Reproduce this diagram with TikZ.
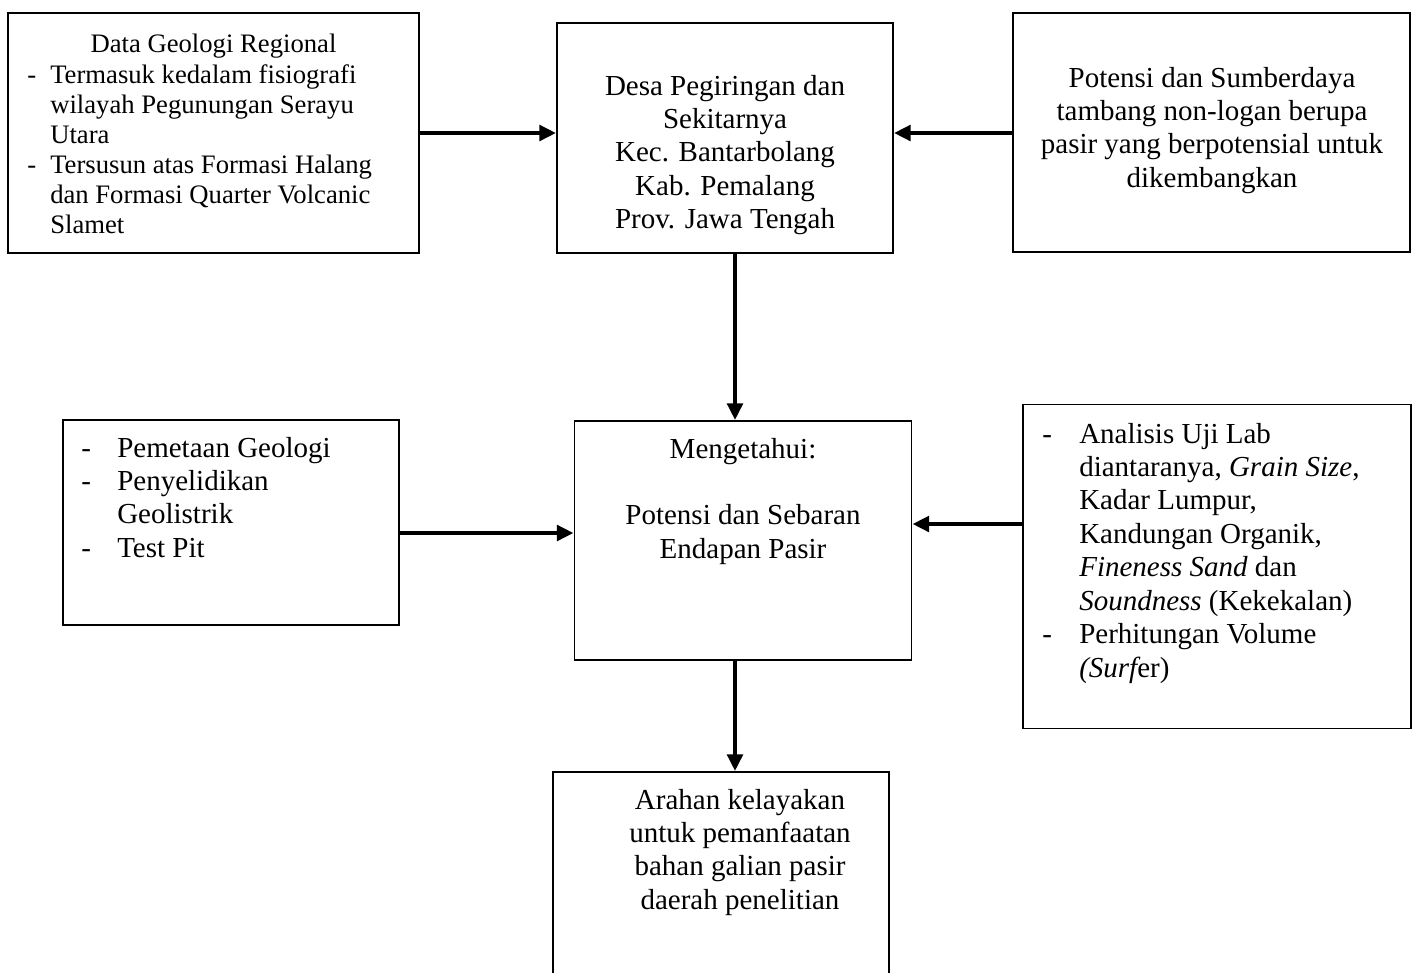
\documentclass[tikz,border=0pt]{standalone}
\usepackage{fontspec}
\setmainfont{Liberation Serif}
\usetikzlibrary{arrows.meta}
\begin{document}
\begin{tikzpicture}[x=0.75pt,y=-0.75pt,
  box/.style={draw, line width=1.4pt, inner sep=0pt, rectangle},
  arr/.style={line width=3.5pt, -{Triangle[length=12.5pt,width=11.5pt]}},
  txt/.style={inner sep=0pt, font=\fontsize{21.75}{25.1}\selectfont},
  txts/.style={inner sep=0pt, font=\fontsize{20}{22.5}\selectfont}]
\path[use as bounding box, fill=white] (0,0) rectangle (1419,972);
\clip (0,0) rectangle (1419,972);
% boxes
\node[box, minimum width=308.25pt, minimum height=180pt] (b1) at (213.5,133) {};
\node[box, minimum width=252pt, minimum height=172.5pt] (b2) at (725,138) {};
\node[box, minimum width=297.75pt, minimum height=179.25pt] (b3) at (1211.5,132.5) {};
\node[box, minimum width=252pt, minimum height=153.75pt] (b4) at (231,522.5) {};
\node[box, minimum width=252.75pt, minimum height=179.25pt] (b5) at (743,540.5) {};
\node[box, minimum width=291pt, minimum height=243pt] (b6) at (1217,566.5) {};
\node[box, minimum width=252pt, minimum height=171pt] (b7) at (721,886) {};
% texts
\node[txts, anchor=base] (t1a) at (213.5,52) {\parbox[t]{300pt}{\centering Data Geologi Regional}};
\node[txts, anchor=base west] (t1b) at (27,83) {\parbox[t]{300pt}{\raggedright
\makebox[17.25pt][l]{-}Termasuk kedalam fisiografi\\
\hspace*{17.25pt}wilayah Pegunungan Serayu\\
\hspace*{17.25pt}Utara\\
\makebox[17.25pt][l]{-}Tersusun atas Formasi Halang\\
\hspace*{17.25pt}dan Formasi Quarter Volcanic\\
\hspace*{17.25pt}Slamet}};
\node[txt, anchor=base] (t2) at (725,95) {\parbox[t]{250pt}{\centering
Desa Pegiringan dan\\ Sekitarnya\\ Kec. Bantarbolang\\ Kab. Pemalang\\ Prov. Jawa Tengah}};
\node[txt, anchor=base] (t3) at (1212,87) {\parbox[t]{295pt}{\centering
Potensi dan Sumberdaya\\ tambang non-logan berupa\\ pasir yang berpotensial untuk\\ dikembangkan}};
\node[txt, anchor=base west] (t4) at (81,457) {\parbox[t]{240pt}{\raggedright
\makebox[27pt][l]{-}Pemetaan Geologi\\
\makebox[27pt][l]{-}Penyelidikan\\
\hspace*{27pt}Geolistrik\\
\makebox[27pt][l]{-}Test Pit}};
\node[txt, anchor=base] (t5) at (743,458) {\parbox[t]{250pt}{\centering
Mengetahui:\\ \strut\\ Potensi dan Sebaran\\ Endapan Pasir}};
\node[txt, anchor=base west] (t6) at (1042,443) {\parbox[t]{280pt}{\raggedright
\makebox[27.75pt][l]{-}Analisis Uji Lab\\
\hspace*{27.75pt}diantaranya, \textit{Grain Size},\\
\hspace*{27.75pt}Kadar Lumpur,\\
\hspace*{27.75pt}Kandungan Organik,\\
\hspace*{27.75pt}\textit{Fineness Sand} dan\\
\hspace*{27.75pt}\textit{Soundness} (Kekekalan)\\
\makebox[27.75pt][l]{-}Perhitungan Volume\\
\hspace*{27.75pt}{\itshape (Surf}er)}};
\node[txt, anchor=base] (t7) at (740,809) {\parbox[t]{250pt}{\centering
Arahan kelayakan\\ untuk pemanfaatan\\ bahan galian pasir\\ daerah penelitian}};
% connectors
\coordinate (vx) at (735,0);
\coordinate (h1) at (0,133);
\coordinate (h4) at (0,533);
\coordinate (h5) at (0,524);
\draw[arr] (b1.east |- h1) -- (b2.west |- h1);
\draw[arr] (b3.west |- h1) -- (b2.east |- h1);
\draw[arr] (b2.south -| vx) -- (b5.north -| vx);
\draw[arr] (b4.east |- h4) -- (b5.west |- h4);
\draw[arr] (b6.west |- h5) -- (b5.east |- h5);
\draw[arr] (b5.south -| vx) -- (b7.north -| vx);
\end{tikzpicture}
\end{document}
